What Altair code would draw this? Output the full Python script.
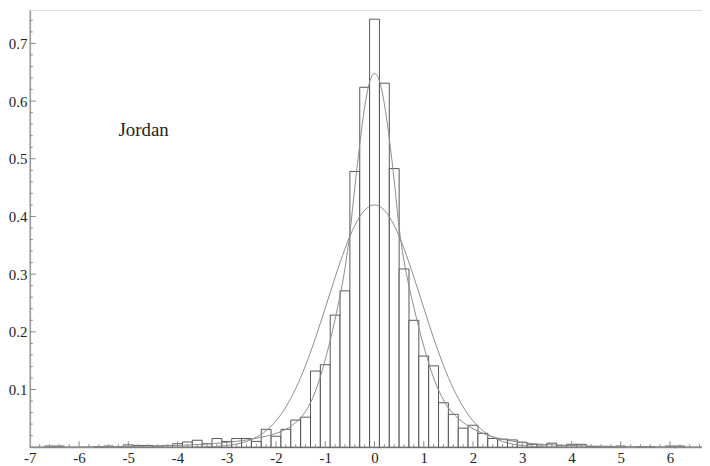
import altair as alt
import pandas as pd

# Histogram: bin centres (width 0.2) and heights
bin_centers = [-6.6, -6.4, -5.6, -5.4, -5.2, -5.0, -4.8, -4.6, -4.4, -4.2, -4.0,
               -3.8, -3.6, -3.4, -3.2, -3.0, -2.8, -2.6, -2.4, -2.2, -2.0,
               -1.8, -1.6, -1.4, -1.2, -1.0, -0.8, -0.6, -0.4, -0.2, 0.0,
               0.2, 0.4, 0.6, 0.8, 1.0, 1.2, 1.4, 1.6, 1.8, 2.0,
               2.2, 2.4, 2.6, 2.8, 3.0, 3.2, 3.4, 3.6, 3.8, 4.0,
               4.2, 4.4, 4.6, 4.8, 5.0, 5.4, 5.6, 6.0, 6.2]
bin_heights = [0.002, 0.002, 0.001, 0.002, 0.001, 0.004, 0.003, 0.003, 0.002, 0.003, 0.006,
               0.009, 0.012, 0.006, 0.015, 0.010, 0.015, 0.015, 0.010, 0.031, 0.019,
               0.031, 0.047, 0.052, 0.132, 0.143, 0.229, 0.271, 0.478, 0.624, 0.742,
               0.631, 0.483, 0.309, 0.220, 0.158, 0.141, 0.077, 0.057, 0.033, 0.038,
               0.024, 0.015, 0.014, 0.0126, 0.0086, 0.005, 0.004, 0.007, 0.003, 0.005,
               0.005, 0.001, 0.001, 0.001, 0.002, 0.001, 0.001, 0.002, 0.002]
bin_width = 0.2

# Fitted curves
curve_x = [-7.0, -6.0, -5.0, -4.5, -4.0, -3.5, -3.0, -2.8, -2.6, -2.4, -2.2, -2.0,
           -1.9, -1.8, -1.7, -1.6, -1.5, -1.4, -1.3, -1.2, -1.1, -1.0,
           -0.9, -0.8, -0.7, -0.6, -0.5, -0.4, -0.3, -0.2, -0.1, 0.0,
           0.1, 0.2, 0.3, 0.4, 0.5, 0.6, 0.7, 0.8, 0.9, 1.0,
           1.1, 1.2, 1.3, 1.4, 1.5, 1.6, 1.7, 1.8, 1.9, 2.0,
           2.2, 2.4, 2.6, 2.8, 3.0, 3.5, 4.0, 4.5, 5.0, 6.0, 6.65]
normal_curve = [0.0, 0.0, 0.0, 0.0, 0.0001, 0.0005, 0.0029, 0.0055, 0.0099, 0.0173, 0.0287, 0.0458,
                0.0568, 0.0698, 0.0847, 0.1017, 0.1208, 0.1418, 0.1647, 0.1891, 0.2148, 0.2414,
                0.2681, 0.2946, 0.3201, 0.3441, 0.3657, 0.3844, 0.3996, 0.4108, 0.4177, 0.4200,
                0.4177, 0.4108, 0.3996, 0.3844, 0.3657, 0.3441, 0.3201, 0.2946, 0.2681, 0.2414,
                0.2148, 0.1891, 0.1647, 0.1418, 0.1208, 0.1017, 0.0847, 0.0698, 0.0568, 0.0458,
                0.0287, 0.0173, 0.0099, 0.0055, 0.0029, 0.0005, 0.0001, 0.0, 0.0, 0.0, 0.0]
fitted_curve = [0.0003, 0.0006, 0.0013, 0.002, 0.003, 0.005, 0.0083, 0.0102, 0.0125, 0.0155, 0.019, 0.024,
                0.027, 0.031, 0.036, 0.043, 0.051, 0.062, 0.077, 0.097, 0.122, 0.152,
                0.185, 0.222, 0.263, 0.310, 0.372, 0.450, 0.525, 0.590, 0.633, 0.648,
                0.635, 0.595, 0.535, 0.462, 0.380, 0.322, 0.279, 0.242, 0.207, 0.175,
                0.146, 0.120, 0.099, 0.082, 0.068, 0.058, 0.050, 0.043, 0.037, 0.032,
                0.024, 0.018, 0.0138, 0.0105, 0.008, 0.0045, 0.0028, 0.0018, 0.0012, 0.0006, 0.0004]

x_major = [-7, -6, -5, -4, -3, -2, -1, 0, 1, 2, 3, 4, 5, 6]
y_major = [0.1, 0.2, 0.3, 0.4, 0.5, 0.6, 0.7]
x_minor = [round(-7 + 0.2 * k, 1) for k in range(1, 69) if k % 5 != 0]
y_minor = [round(0.02 * k, 2) for k in range(1, 38) if k % 5 != 0]

X_DOM = [-7, 6.65]
Y_DOM = [0, 0.758]
W, H = 678, 441
FONT = "Liberation Serif"

bars = pd.DataFrame({"c": bin_centers, "h": bin_heights})
bars["lo"] = bars["c"] - bin_width / 2
bars["hi"] = bars["c"] + bin_width / 2

curves = pd.DataFrame({"x": curve_x, "normal": normal_curve, "fit": fitted_curve})

xs = alt.Scale(domain=X_DOM, nice=False, zero=False)
ys = alt.Scale(domain=Y_DOM, nice=False)

x_axis = alt.Axis(values=x_major, ticks=False, tickSize=0, grid=False,
                  domainColor="#9a9a9a", domainWidth=1.3,
                  labelFont=FONT, labelFontSize=15, labelColor="#222",
                  labelPadding=3, labelFlush=False, labelOverlap=False,
                  labelExpr="datum.value < 0 ? '-' + abs(datum.value) : '' + datum.value",
                  title=None)
y_axis = alt.Axis(values=y_major, ticks=False, tickSize=0, grid=False,
                  domainColor="#9a9a9a", domainWidth=1.6,
                  labelFont=FONT, labelFontSize=15, labelColor="#222",
                  labelPadding=3, labelFlush=False, labelOverlap=False,
                  format=".1f", title=None)

bar_layer = alt.Chart(bars).mark_rect(fill="white", stroke="#444", strokeWidth=0.9).encode(
    x=alt.X("lo:Q", scale=xs, axis=x_axis),
    x2="hi:Q",
    y=alt.Y("h:Q", scale=ys, axis=y_axis),
    y2=alt.datum(0),
)

normal_layer = alt.Chart(curves).mark_line(color="#8c8c8c", strokeWidth=1, interpolate="monotone").encode(
    x=alt.X("x:Q", scale=xs), y=alt.Y("normal:Q", scale=ys)
)
fit_layer = alt.Chart(curves).mark_line(color="#8c8c8c", strokeWidth=1, interpolate="monotone").encode(
    x=alt.X("x:Q", scale=xs), y=alt.Y("fit:Q", scale=ys)
)

tick_color = "#8a8a8a"
xmaj = alt.Chart(pd.DataFrame({"v": x_major[1:]})).mark_rule(color=tick_color, strokeWidth=1).encode(
    x=alt.X("v:Q", scale=xs), y=alt.value(H), y2=alt.value(H - 6))
xmin = alt.Chart(pd.DataFrame({"v": x_minor})).mark_rule(color=tick_color, strokeWidth=1).encode(
    x=alt.X("v:Q", scale=xs), y=alt.value(H), y2=alt.value(H - 3))
ymaj = alt.Chart(pd.DataFrame({"v": y_major})).mark_rule(color=tick_color, strokeWidth=1).encode(
    y=alt.Y("v:Q", scale=ys), x=alt.value(0), x2=alt.value(6))
ymin = alt.Chart(pd.DataFrame({"v": y_minor})).mark_rule(color=tick_color, strokeWidth=1).encode(
    y=alt.Y("v:Q", scale=ys), x=alt.value(0), x2=alt.value(3))

label = alt.Chart(pd.DataFrame({"t": ["Jordan"]})).mark_text(
    font=FONT, fontSize=19, align="left", baseline="alphabetic", color="#222"
).encode(x=alt.datum(-5.2, scale=xs), y=alt.datum(0.54, scale=ys), text="t:N")

chart = alt.layer(bar_layer, normal_layer, fit_layer, xmaj, xmin, ymaj, ymin, label).properties(
    width=W, height=H,
    autosize=alt.AutoSizeParams(type="none"),
    padding={"left": 22, "top": 0, "right": 0, "bottom": 17},
).configure_view(stroke=None).configure_axis(
    labelFont=FONT, labelFontSize=15, labelColor="#222"
).configure(font=FONT)

chart.save("out.html", embed_options={"renderer": "svg", "actions": False})
